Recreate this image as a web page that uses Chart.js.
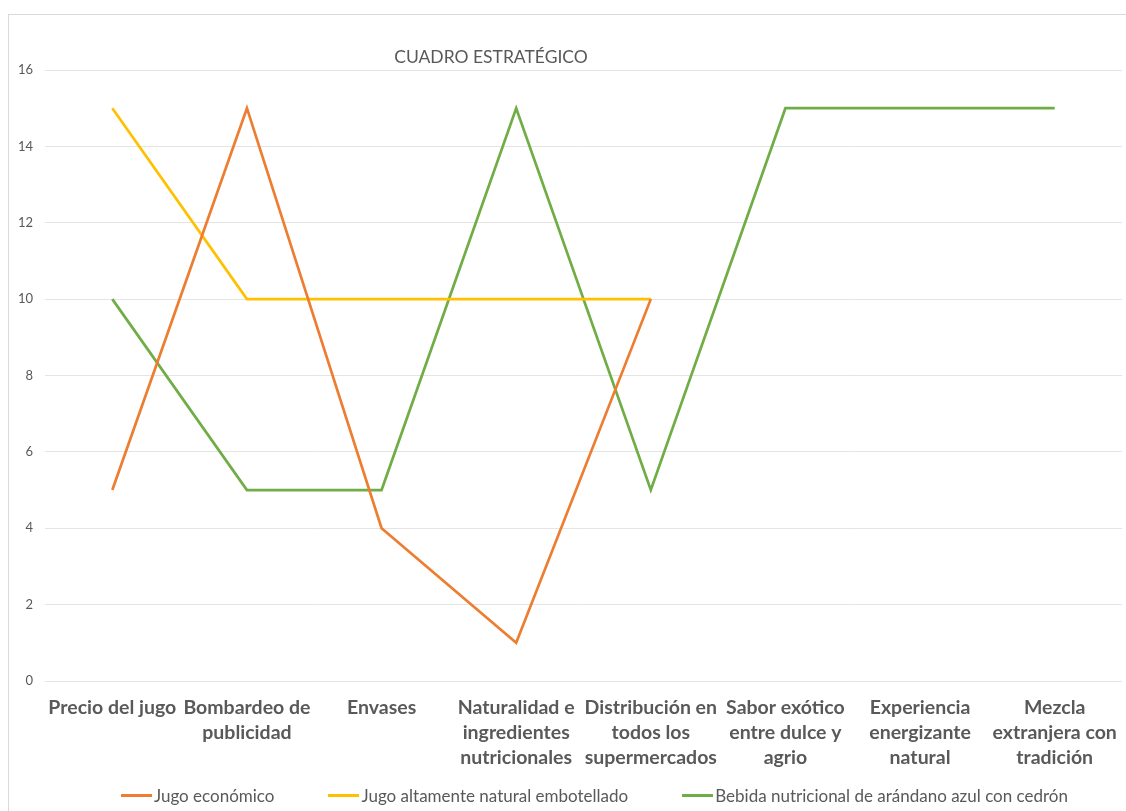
<!DOCTYPE html>
<html>
<head>
<meta charset="utf-8">
<script src="https://cdn.jsdelivr.net/npm/chart.js@4"></script>
<style>
  html, body { margin: 0; padding: 0; background: #fff; overflow: hidden; }
  #wrap  { position: relative; width: 1126px; height: 811px; }
  #frame { position: absolute; left: 8px; top: 14px; width: 1140px; height: 820px;
           border: 1px solid #d9d9d9; pointer-events: none; }
  #legend { position: absolute; left: 63px; width: 1063px; top: 784px; height: 22px;
            display: flex; justify-content: center; align-items: center; gap: 54px;
            font: 17px Lato, sans-serif; color: #595959; white-space: nowrap; }
  .item   { display: flex; align-items: center; }
  .swatch { width: 31px; height: 3px; margin-right: 2px; }
</style>
</head>
<body>
<div id="wrap">
  <canvas id="chart"></canvas>
  <div id="legend"></div>
  <div id="frame"></div>
</div>
<script>
// ── Data ─────────────────────────────────
const CATEGORIES = [
  "Precio del jugo",
  ["Bombardeo de", "publicidad"],
  "Envases",
  ["Naturalidad e", "ingredientes", "nutricionales"],
  ["Distribución en", "todos los", "supermercados"],
  ["Sabor exótico", "entre dulce y", "agrio"],
  ["Experiencia", "energizante", "natural"],
  ["Mezcla", "extranjera con", "tradición"],
];

const SERIES_NAMES = [
  "Jugo económico",
  "Jugo altamente natural embotellado",
  "Bebida nutricional de arándano azul con cedrón",
];

const JUGO_ECONOMICO  = [5, 15, 4, 1, 10, null, null, null];
const JUGO_NATURAL    = [15, 10, 10, 10, 10, null, null, null];
const BEBIDA_ARANDANO = [10, 5, 5, 15, 5, 15, 15, 15];

const COLORS = ["#ED7D31", "#FFC000", "#70AD47"];
const TITLE = "CUADRO ESTRATÉGICO";

// ── Title drawn left of centre, like the original ─
const titlePlugin = {
  id: "offsetTitle",
  afterDraw(chart) {
    const ctx = chart.ctx;
    ctx.save();
    ctx.font = "17.5px Lato";
    ctx.fillStyle = "#595959";
    ctx.textAlign = "center";
    ctx.textBaseline = "middle";
    ctx.fillText(TITLE, 491, 57);
    ctx.restore();
  }
};

const datasets = [JUGO_ECONOMICO, JUGO_NATURAL, BEBIDA_ARANDANO].map((d, i) => ({
  label: SERIES_NAMES[i],
  data: d,
  borderColor: COLORS[i],
  backgroundColor: COLORS[i],
  borderWidth: 2.7,
  pointRadius: 0,
  tension: 0,
  spanGaps: false,
}));

const chart = new Chart(document.getElementById("chart"), {
  type: "line",
  data: { labels: CATEGORIES, datasets },
  plugins: [titlePlugin],
  options: {
    responsive: true,
    maintainAspectRatio: false,
    animation: false,
    layout: { padding: { top: 70, right: 4, left: 0, bottom: 30 } },
    plugins: {
      title: { display: false },
      tooltip: { enabled: false },
      legend: { display: false },
    },
    scales: {
      x: {
        offset: true,
        afterFit(scale) {
          scale.height = 100;
          scale.paddingLeft = 0;   // labels fit inside their category slots
          scale.paddingRight = 0;
        },
        grid: { display: false, drawTicks: false },
        border: { display: false },
        ticks: {
          autoSkip: false,
          maxRotation: 0,
          padding: 14.5,
          color: "#595959",
          font: { family: "Lato", size: 19.5, weight: "bold", lineHeight: 1.28 },
        },
      },
      y: {
        min: 0,
        max: 16,
        afterFit(scale) { scale.width = 45; },
        grid: { color: "#e4e4e4", drawTicks: false },
        border: { display: false },
        ticks: {
          stepSize: 2,
          padding: 12,
          color: "#595959",
          font: { family: "Lato", size: 13 },
        },
      },
    },
  },
});

// ── Legend (HTML, built from the series) ─
document.getElementById("legend").innerHTML = chart.data.datasets.map(ds => `
  <div class="item">
    <div class="swatch" style="background:${ds.borderColor}"></div>
    <span>${ds.label}</span>
  </div>`).join("");
</script>
</body>
</html>
